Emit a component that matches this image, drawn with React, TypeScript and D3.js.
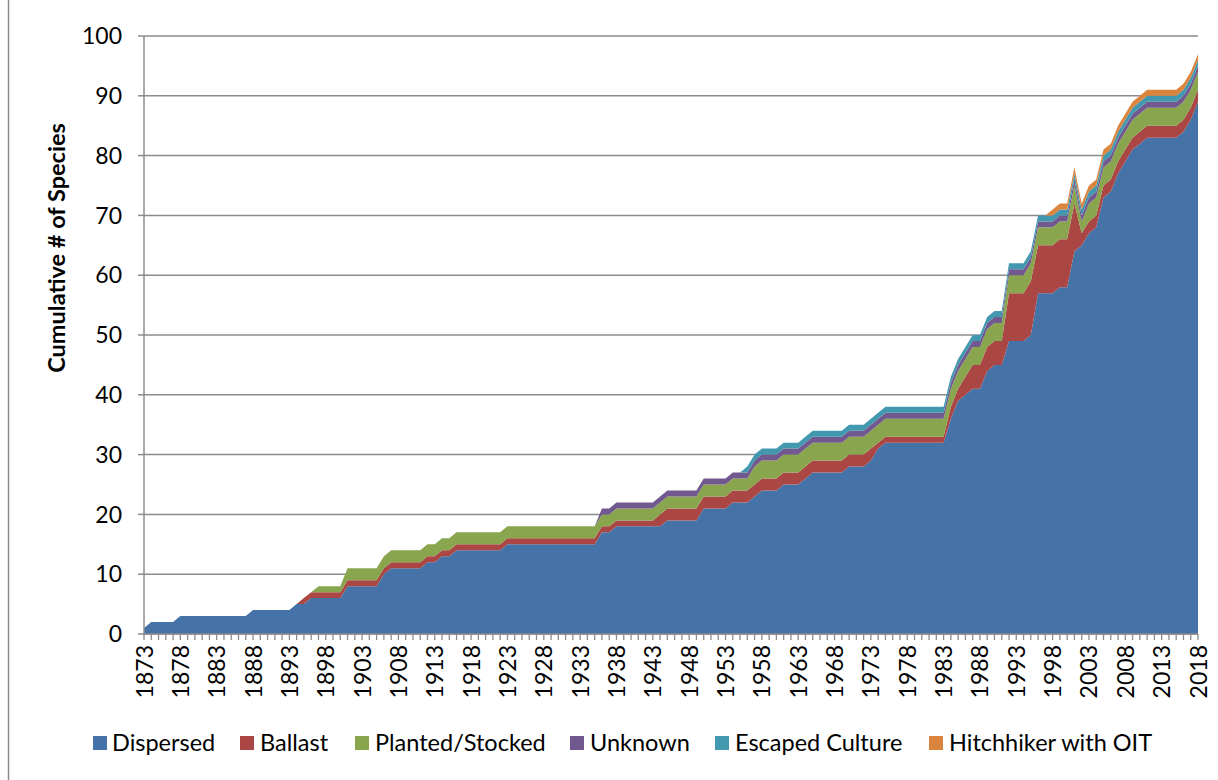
import React from "react";
import * as d3 from "d3";

const years: number[] = d3.range(1873, 2019);

const seriesNames = ["Dispersed", "Ballast", "Planted/Stocked", "Unknown", "Escaped Culture", "Hitchhiker with OIT"];
const seriesColors = ["#4572A7", "#AA4643", "#89A54E", "#71588F", "#4198AF", "#DB843D"];

const dispersed = [
  1, 2, 2, 2, 2, 3, 3, 3, 3, 3,
  3, 3, 3, 3, 3, 4, 4, 4, 4, 4,
  4, 5, 5, 6, 6, 6, 6, 6, 8, 8,
  8, 8, 8, 10, 11, 11, 11, 11, 11, 12,
  12, 13, 13, 14, 14, 14, 14, 14, 14, 14,
  15, 15, 15, 15, 15, 15, 15, 15, 15, 15,
  15, 15, 15, 17, 17, 18, 18, 18, 18, 18,
  18, 18, 19, 19, 19, 19, 19, 21, 21, 21,
  21, 22, 22, 22, 23, 24, 24, 24, 25, 25,
  25, 26, 27, 27, 27, 27, 27, 28, 28, 28,
  29, 31, 32, 32, 32, 32, 32, 32, 32, 32,
  32, 36, 39, 40, 41, 41, 44, 45, 45, 49,
  49, 49, 50, 57, 57, 57, 58, 58, 64, 65,
  67, 68, 73, 74, 77, 79, 81, 82, 83, 83,
  83, 83, 83, 84, 86, 89,
];
const ballast = [
  0, 0, 0, 0, 0, 0, 0, 0, 0, 0,
  0, 0, 0, 0, 0, 0, 0, 0, 0, 0,
  0, 0, 1, 1, 1, 1, 1, 1, 1, 1,
  1, 1, 1, 1, 1, 1, 1, 1, 1, 1,
  1, 1, 1, 1, 1, 1, 1, 1, 1, 1,
  1, 1, 1, 1, 1, 1, 1, 1, 1, 1,
  1, 1, 1, 1, 1, 1, 1, 1, 1, 1,
  1, 2, 2, 2, 2, 2, 2, 2, 2, 2,
  2, 2, 2, 2, 2, 2, 2, 2, 2, 2,
  2, 2, 2, 2, 2, 2, 2, 2, 2, 2,
  2, 1, 1, 1, 1, 1, 1, 1, 1, 1,
  1, 2, 2, 3, 4, 4, 4, 4, 4, 8,
  8, 8, 9, 8, 8, 8, 8, 8, 8, 2,
  2, 2, 2, 2, 2, 2, 2, 2, 2, 2,
  2, 2, 2, 2, 2, 2,
];
const planted = [
  0, 0, 0, 0, 0, 0, 0, 0, 0, 0,
  0, 0, 0, 0, 0, 0, 0, 0, 0, 0,
  0, 0, 0, 0, 1, 1, 1, 1, 2, 2,
  2, 2, 2, 2, 2, 2, 2, 2, 2, 2,
  2, 2, 2, 2, 2, 2, 2, 2, 2, 2,
  2, 2, 2, 2, 2, 2, 2, 2, 2, 2,
  2, 2, 2, 2, 2, 2, 2, 2, 2, 2,
  2, 2, 2, 2, 2, 2, 2, 2, 2, 2,
  2, 2, 2, 2, 3, 3, 3, 3, 3, 3,
  3, 3, 3, 3, 3, 3, 3, 3, 3, 3,
  3, 3, 3, 3, 3, 3, 3, 3, 3, 3,
  3, 3, 3, 3, 3, 3, 3, 3, 3, 3,
  3, 3, 3, 3, 3, 3, 3, 3, 3, 2,
  3, 3, 3, 3, 3, 3, 3, 3, 3, 3,
  3, 3, 3, 3, 3, 3,
];
const unknown = [
  0, 0, 0, 0, 0, 0, 0, 0, 0, 0,
  0, 0, 0, 0, 0, 0, 0, 0, 0, 0,
  0, 0, 0, 0, 0, 0, 0, 0, 0, 0,
  0, 0, 0, 0, 0, 0, 0, 0, 0, 0,
  0, 0, 0, 0, 0, 0, 0, 0, 0, 0,
  0, 0, 0, 0, 0, 0, 0, 0, 0, 0,
  0, 0, 0, 1, 1, 1, 1, 1, 1, 1,
  1, 1, 1, 1, 1, 1, 1, 1, 1, 1,
  1, 1, 1, 1, 1, 1, 1, 1, 1, 1,
  1, 1, 1, 1, 1, 1, 1, 1, 1, 1,
  1, 1, 1, 1, 1, 1, 1, 1, 1, 1,
  1, 1, 1, 1, 1, 1, 1, 1, 1, 1,
  1, 1, 1, 1, 1, 1, 1, 1, 1, 1,
  1, 1, 1, 1, 1, 1, 1, 1, 1, 1,
  1, 1, 1, 1, 1, 1,
];
const escaped = [
  0, 0, 0, 0, 0, 0, 0, 0, 0, 0,
  0, 0, 0, 0, 0, 0, 0, 0, 0, 0,
  0, 0, 0, 0, 0, 0, 0, 0, 0, 0,
  0, 0, 0, 0, 0, 0, 0, 0, 0, 0,
  0, 0, 0, 0, 0, 0, 0, 0, 0, 0,
  0, 0, 0, 0, 0, 0, 0, 0, 0, 0,
  0, 0, 0, 0, 0, 0, 0, 0, 0, 0,
  0, 0, 0, 0, 0, 0, 0, 0, 0, 0,
  0, 0, 0, 1, 1, 1, 1, 1, 1, 1,
  1, 1, 1, 1, 1, 1, 1, 1, 1, 1,
  1, 1, 1, 1, 1, 1, 1, 1, 1, 1,
  1, 1, 1, 1, 1, 1, 1, 1, 1, 1,
  1, 1, 1, 1, 1, 1, 1, 1, 1, 1,
  1, 1, 1, 1, 1, 1, 1, 1, 1, 1,
  1, 1, 1, 1, 1, 1,
];
const hitchhiker = [
  0, 0, 0, 0, 0, 0, 0, 0, 0, 0,
  0, 0, 0, 0, 0, 0, 0, 0, 0, 0,
  0, 0, 0, 0, 0, 0, 0, 0, 0, 0,
  0, 0, 0, 0, 0, 0, 0, 0, 0, 0,
  0, 0, 0, 0, 0, 0, 0, 0, 0, 0,
  0, 0, 0, 0, 0, 0, 0, 0, 0, 0,
  0, 0, 0, 0, 0, 0, 0, 0, 0, 0,
  0, 0, 0, 0, 0, 0, 0, 0, 0, 0,
  0, 0, 0, 0, 0, 0, 0, 0, 0, 0,
  0, 0, 0, 0, 0, 0, 0, 0, 0, 0,
  0, 0, 0, 0, 0, 0, 0, 0, 0, 0,
  0, 0, 0, 0, 0, 0, 0, 0, 0, 0,
  0, 0, 0, 0, 0, 1, 1, 1, 1, 1,
  1, 1, 1, 1, 1, 1, 1, 1, 1, 1,
  1, 1, 1, 1, 1, 1,
];

const yTicks = [0, 10, 20, 30, 40, 50, 60, 70, 80, 90, 100];
const xLabelYears = years.filter((y) => (y - 1873) % 5 === 0);

const W = 1218;
const H = 780;
const FONT = "Lato, 'Open Sans', sans-serif";

export default function App() {
  const x = d3.scaleLinear().domain([1873, 2018]).range([144, 1198]);
  const y = d3.scaleLinear().domain([0, 100]).range([634, 36]);

  const seriesArrays = [dispersed, ballast, planted, unknown, escaped, hitchhiker];
  const table = years.map((yr, i) => {
    const row: any = { year: yr };
    seriesNames.forEach((k, j) => (row[k] = seriesArrays[j][i]));
    return row;
  });
  const stacked = d3.stack<any>().keys(seriesNames)(table);
  const area = d3
    .area<any>()
    .x((d) => x(d.data.year))
    .y0((d) => y(d[0]))
    .y1((d) => y(d[1]));

  const legendItems = [
    { name: seriesNames[0], mx: 93, tx: 112 },
    { name: seriesNames[1], mx: 240, tx: 260 },
    { name: seriesNames[2], mx: 355, tx: 375 },
    { name: seriesNames[3], mx: 570, tx: 590 },
    { name: seriesNames[4], mx: 715, tx: 735 },
    { name: seriesNames[5], mx: 929, tx: 949 },
  ];

  return (
    <svg
      width={W}
      height={H}
      style={{ position: "absolute", left: 0, top: 0, background: "#fff" }}
      fontFamily={FONT}
    >
      <rect x={0} y={0} width={W} height={H} fill="#fff" />
      <line x1={8.5} x2={8.5} y1={0} y2={H} stroke="#8a8a8a" strokeWidth={1.5} />

      {/* gridlines */}
      {yTicks.map((t) => (
        <line key={"g" + t} x1={144} x2={1198} y1={y(t)} y2={y(t)} stroke="#8c8c8c" strokeWidth={1.5} />
      ))}

      {/* areas */}
      {stacked.map((s, i) => (
        <path key={s.key} d={area(s) || ""} fill={seriesColors[i]} />
      ))}

      {/* y axis */}
      <line x1={144} x2={144} y1={y(100)} y2={y(0)} stroke="#8c8c8c" strokeWidth={1.5} />
      {yTicks.map((t) => (
        <g key={"yt" + t}>
          <line x1={138} x2={144} y1={y(t)} y2={y(t)} stroke="#8c8c8c" strokeWidth={1.5} />
          <text x={122} y={y(t)} dy="0.36em" textAnchor="end" fontSize={23} fill="#000">
            {t}
          </text>
        </g>
      ))}

      {/* x axis */}
      <line x1={144} x2={1198} y1={634} y2={634} stroke="#8c8c8c" strokeWidth={1.5} />
      {years.map((yr) => (
        <line key={"xt" + yr} x1={x(yr)} x2={x(yr)} y1={634} y2={640} stroke="#8c8c8c" strokeWidth={1.3} />
      ))}
      {xLabelYears.map((yr) => (
        <text
          key={"xl" + yr}
          transform={`translate(${x(yr) + 8.5},${645}) rotate(-90)`}
          textAnchor="end"
          fontSize={23}
          fill="#000"
        >
          {yr}
        </text>
      ))}

      {/* y title */}
      <text
        transform={`translate(${65},${248}) rotate(-90)`}
        textAnchor="middle"
        fontSize={23.5}
        fontWeight="bold"
        fill="#000"
      >
        Cumulative # of Species
      </text>

      {/* legend */}
      {legendItems.map((it, i) => (
        <g key={"lg" + i}>
          <rect x={it.mx} y={736} width={14} height={14} fill={seriesColors[i]} />
          <text x={it.tx} y={743} dy="0.36em" fontSize={23.5} fill="#000">
            {it.name}
          </text>
        </g>
      ))}
    </svg>
  );
}
